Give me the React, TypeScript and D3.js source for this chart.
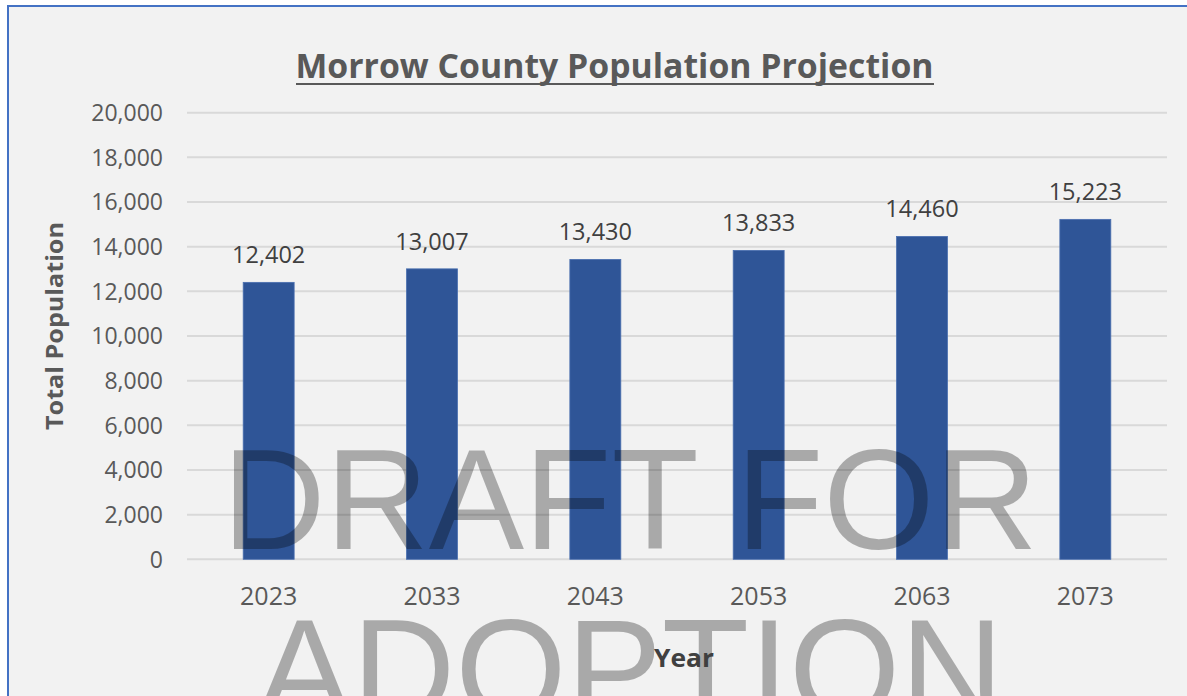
import React from "react";
import * as d3 from "d3";

const years = ["2023", "2033", "2043", "2053", "2063", "2073"];
const population = [12402, 13007, 13430, 13833, 14460, 15223];
const yTicks = [0, 2000, 4000, 6000, 8000, 10000, 12000, 14000, 16000, 18000, 20000];
const chartTitle = "Morrow County Population Projection";
const yTitle = "Total Population";
const xTitle = "Year";
const watermark = ["DRAFT FOR", "ADOPTION"];

const W = 1187;
const H = 696;
const plot = { left: 187, right: 1167, top: 112.7, bottom: 559.3 };
const FONT = "'Open Sans', 'Liberation Sans', sans-serif";

export default function App() {
  const x = d3
    .scaleBand<string>()
    .domain(years)
    .range([plot.left, plot.right])
    .paddingInner(0.688)
    .paddingOuter(0.344);
  const y = d3.scaleLinear().domain([0, 20000]).range([plot.bottom, plot.top]);
  const fmt = d3.format(",");

  return (
    <svg
      width={W}
      height={H}
      style={{ position: "absolute", left: 0, top: 0, display: "block" }}
    >
      <rect x={0} y={0} width={W} height={H} fill="#ffffff" />
      <rect x={8} y={6} width={W + 20} height={H + 20} fill="#f2f2f2" stroke="#4472c4" strokeWidth={2} />

      {/* title */}
      <text
        x={614.5}
        y={78.3}
        textAnchor="middle"
        fontFamily={FONT}
        fontWeight="bold"
        fontSize={34}
        fill="#595959"
        textLength={638}
        lengthAdjust="spacingAndGlyphs"
      >
        {chartTitle}
      </text>
      <line x1={296} x2={934} y1={84} y2={84} stroke="#595959" strokeWidth={2.2} />

      {/* gridlines */}
      {yTicks.map((t) => (
        <line
          key={"g" + t}
          x1={plot.left}
          x2={plot.right}
          y1={y(t)}
          y2={y(t)}
          stroke="#d9d9d9"
          strokeWidth={2}
        />
      ))}

      {/* y tick labels */}
      {yTicks.map((t) => (
        <text
          key={"t" + t}
          x={163}
          y={y(t)}
          dy="0.36em"
          textAnchor="end"
          fontFamily={FONT}
          fontSize={23}
          fill="#595959"
        >
          {fmt(t)}
        </text>
      ))}

      {/* bars */}
      {years.map((yr, i) => (
        <rect
          key={"b" + yr}
          x={x(yr)!}
          y={y(population[i])}
          width={x.bandwidth()}
          height={y(0) - y(population[i])}
          fill="#2f5597"
          stroke="#4a6fb0"
          strokeWidth={0.8}
        />
      ))}

      {/* data labels */}
      {years.map((yr, i) => (
        <text
          key={"l" + yr}
          x={x(yr)! + x.bandwidth() / 2}
          y={y(population[i]) - 19}
          textAnchor="middle"
          fontFamily={FONT}
          fontSize={23.5}
          fill="#404040"
        >
          {fmt(population[i])}
        </text>
      ))}

      {/* x labels */}
      {years.map((yr) => (
        <text
          key={"x" + yr}
          x={x(yr)! + x.bandwidth() / 2}
          y={605.3}
          textAnchor="middle"
          fontFamily={FONT}
          fontSize={25}
          fill="#595959"
        >
          {yr}
        </text>
      ))}

      {/* axis titles */}
      <text
        transform="translate(63,326) rotate(-90)"
        textAnchor="middle"
        fontFamily={FONT}
        fontWeight="bold"
        fontSize={24}
        fill="#595959"
        textLength={208}
        lengthAdjust="spacingAndGlyphs"
      >
        {yTitle}
      </text>

      {/* watermark */}
      <g fill="#000000" fillOpacity={0.3} fontFamily="'Liberation Sans', Arial, sans-serif" fontSize={143}>
        <text x={630} y={549.3} textAnchor="middle">
          {watermark[0]}
        </text>
        <text x={630} y={719} textAnchor="middle">
          {watermark[1]}
        </text>
      </g>

      <text
        x={684}
        y={667}
        textAnchor="middle"
        fontFamily={FONT}
        fontWeight="bold"
        fontSize={25}
        fill="#404040"
        textLength={60}
        lengthAdjust="spacingAndGlyphs"
      >
        {xTitle}
      </text>
    </svg>
  );
}
